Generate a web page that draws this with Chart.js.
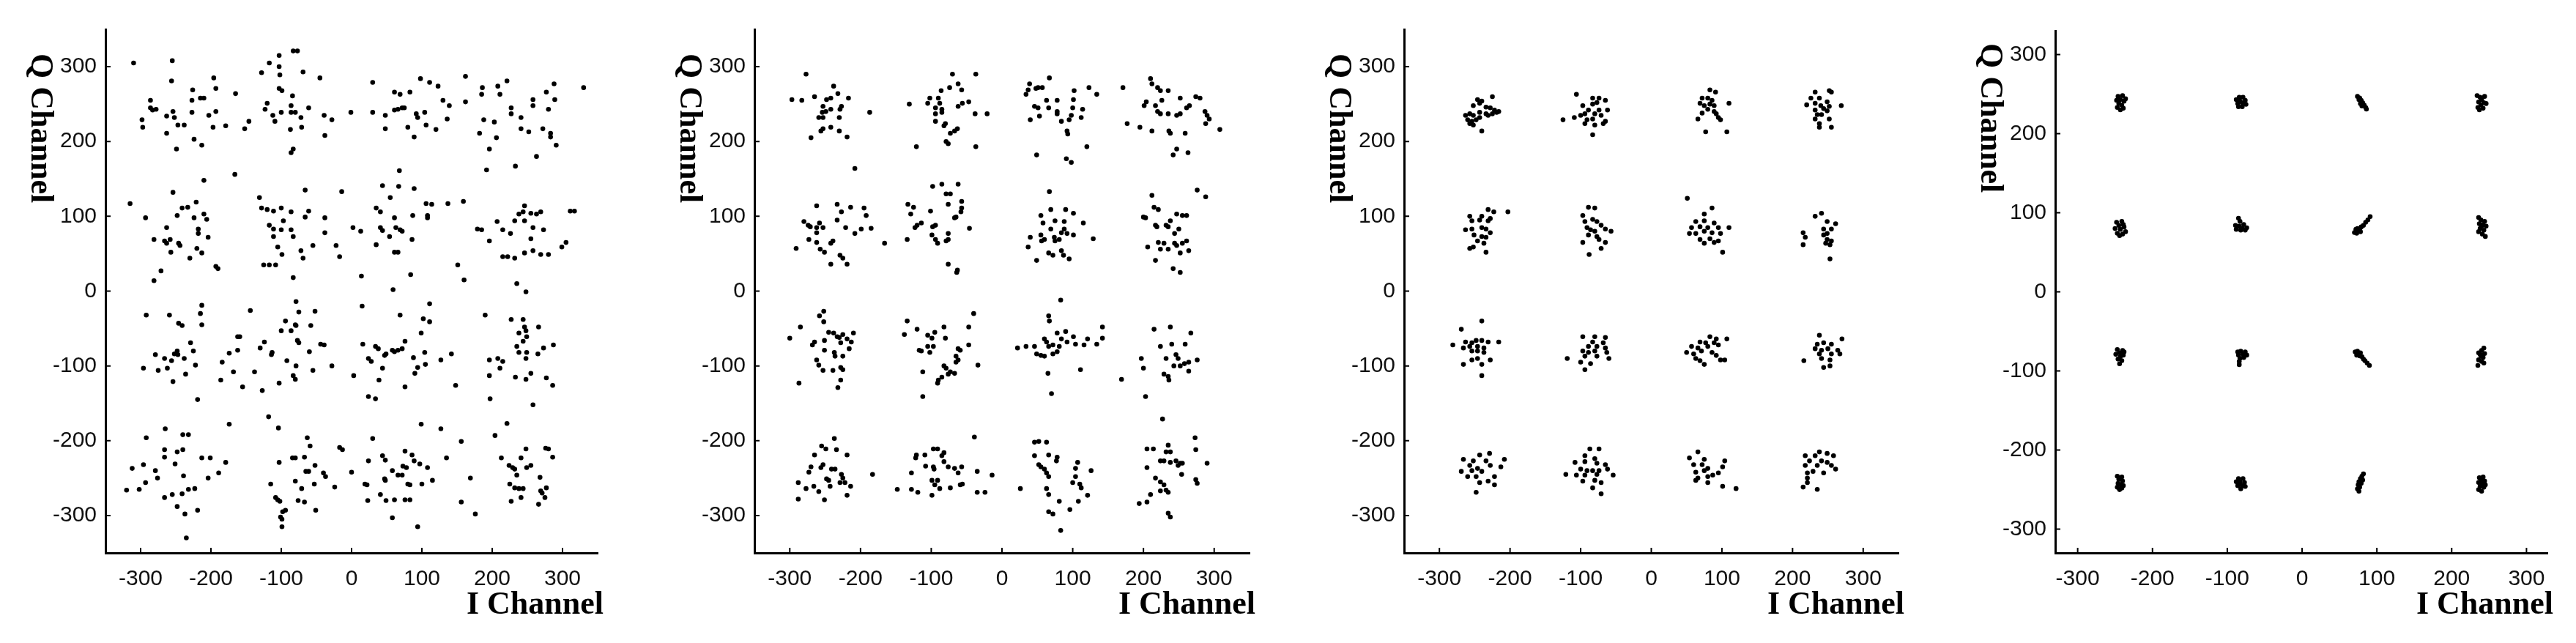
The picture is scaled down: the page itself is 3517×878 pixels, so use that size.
<!DOCTYPE html>
<html>
<head>
<meta charset="utf-8">
<script src="https://cdn.jsdelivr.net/npm/chart.js@4.4.1/dist/chart.umd.min.js"></script>
<style>
  html, body { margin: 0; padding: 0; background: #fff; }
  #wrap { position: relative; width: 3517px; height: 878px; overflow: hidden; }
  #wrap canvas { position: absolute; top: 0; }
</style>
</head>
<body>
<div id="wrap"></div>
<script>
// tick marks shared by every panel
const xTicks = [-300, -200, -100, 0, 100, 200, 300];
const yTicks = [-300, -200, -100, 0, 100, 200, 300];

// panel 1 - strongest noise, [I, Q]
const scatterA = [
  [-310,305],[-255,308],[-256,281],[-286,245],[-283,242],[-278,243],[-286,255],[-298,229],[-297,219],[-263,211],[-254,240],[-252,232],[-247,222],[-238,222],[-263,234],[-249,190],[-227,255],[-227,239],[-226,269],[-224,203],[-213,195],[-215,258],[-210,258],[-196,285],[-193,271],[-193,240],[-203,235],[-197,219],[-179,221],[-165,264],[-152,217],[-146,227],
  [-128,292],[-117,305],[-103,315],[-103,300],[-102,289],[-83,321],[-77,321],[-103,271],[-99,268],[-120,251],[-123,243],[-112,235],[-109,227],[-100,239],[-86,239],[-80,239],[-86,248],[-84,261],[-69,293],[-72,232],[-71,219],[-87,216],[-61,245],[-83,190],[-86,185],[-45,285],[-39,235],[-28,229],[-38,208],[-1,239],
  [30,279],[30,239],[48,235],[48,217],[61,266],[69,263],[61,242],[66,243],[72,245],[75,245],[80,219],[89,206],[83,266],[92,237],[94,232],[104,239],[98,284],[111,279],[123,274],[106,222],[120,216],[130,255],[139,248],[136,230],
  [162,287],[162,253],[186,272],[185,263],[182,211],[188,229],[196,190],[192,162],[203,226],[206,205],[208,274],[211,263],[221,281],[227,245],[227,237],[241,232],[233,167],[241,217],[252,213],[258,256],[258,248],[263,180],[272,217],[283,211],[283,206],[277,266],[280,243],[288,277],[289,256],[291,195],[330,272],
  [-315,117],[-293,98],[-281,69],[-263,85],[-266,67],[-263,64],[-258,69],[-257,52],[-246,64],[-244,61],[-254,132],[-248,101],[-241,111],[-233,112],[-221,119],[-224,98],[-218,83],[-218,77],[-210,103],[-206,96],[-220,57],[-213,51],[-230,44],[-204,72],[-210,148],[-193,33],[-190,30],[-271,27],[-281,14],[-166,156],
  [-131,125],[-128,111],[-120,109],[-111,107],[-100,111],[-86,106],[-97,94],[-117,88],[-111,83],[-100,82],[-111,73],[-86,82],[-83,73],[-105,59],[-99,49],[-72,54],[-69,44],[-125,35],[-117,35],[-108,35],[-83,18],[-66,135],[-61,107],[-66,99],[-55,61],[-38,98],[-38,78],[-22,61],[-17,46],[-14,133],
  [2,85],[13,80],[14,20],[35,111],[41,106],[55,125],[44,141],[68,161],[67,140],[89,137],[41,85],[44,81],[54,73],[61,98],[63,85],[69,82],[72,80],[35,62],[61,52],[66,52],[86,69],[87,101],[84,22],[59,2],[108,101],[108,98],[106,117],[114,116],[137,117],[159,120],[151,35],[160,15],
  [179,83],[185,82],[196,67],[207,93],[215,82],[226,77],[232,94],[238,103],[215,46],[222,46],[232,44],[235,10],[248,-1],[246,114],[244,106],[255,104],[263,103],[269,106],[246,94],[258,85],[273,82],[255,70],[246,51],[258,54],[269,49],[280,49],[299,59],[305,65],[311,107],[317,107],
  [-292,-32],[-259,-32],[-213,-19],[-215,-30],[-213,-45],[-246,-43],[-241,-46],[-144,-26],[-79,-14],[-75,-28],[-52,-27],[-94,-40],[-80,-45],[-58,-46],[15,-20],[69,-32],[111,-17],[102,-37],[111,-41],[190,-32],[227,-38],[244,-38],[246,-48],[266,-48],
  [-162,-61],[-159,-61],[-229,-69],[-279,-85],[-266,-90],[-252,-84],[-248,-80],[-247,-85],[-256,-93],[-238,-90],[-225,-80],[-222,-99],[-296,-103],[-275,-106],[-262,-103],[-236,-111],[-254,-121],[-219,-145],[-184,-95],[-174,-83],[-162,-79],[-168,-108],[-186,-119],[-155,-128],
  [-138,-108],[-130,-76],[-124,-68],[-114,-85],[-113,-82],[-127,-133],[-100,-53],[-86,-53],[-79,-46],[-92,-93],[-79,-100],[-83,-113],[-80,-118],[-103,-123],[-77,-66],[-75,-69],[-60,-81],[-55,-106],[-44,-71],[-39,-72],[-28,-100],
  [3,-113],[16,-71],[24,-90],[28,-94],[34,-74],[38,-77],[44,-103],[39,-119],[47,-86],[49,-84],[58,-79],[61,-81],[66,-79],[72,-77],[76,-67],[24,-141],[34,-144],[76,-128],[88,-89],[90,-110],[94,-102],[99,-56],[104,-82],[105,-98],[127,-92],[142,-84],[148,-126],
  [196,-92],[196,-113],[197,-144],[208,-90],[215,-94],[211,-103],[238,-56],[235,-74],[238,-82],[244,-67],[248,-53],[249,-61],[249,-82],[248,-90],[233,-115],[248,-118],[255,-110],[265,-84],[273,-76],[287,-72],[258,-152],[277,-116],[286,-126],
  [-174,-178],[-292,-196],[-265,-184],[-240,-192],[-232,-192],[-266,-212],[-266,-222],[-248,-215],[-240,-212],[-251,-231],[-296,-232],[-312,-237],[-279,-240],[-276,-250],[-293,-256],[-320,-266],[-302,-265],[-239,-247],[-266,-276],[-255,-272],[-241,-271],[-232,-265],[-223,-264],[-248,-288],[-237,-298],[-219,-293],[-235,-330],[-213,-223],[-201,-223],[-204,-250],[-189,-243],[-179,-229],
  [-118,-168],[-104,-183],[-103,-229],[-84,-223],[-80,-223],[-67,-222],[-63,-196],[-59,-207],[-115,-258],[-108,-276],[-105,-279],[-102,-281],[-98,-295],[-94,-293],[-101,-302],[-99,-305],[-99,-315],[-80,-254],[-71,-264],[-76,-280],[-67,-282],[-65,-241],[-61,-241],[-52,-233],[-53,-258],[-40,-243],[-37,-248],[-51,-293],[-24,-262],[-17,-209],[-13,-212],
  [0,-242],[19,-258],[22,-259],[23,-280],[24,-227],[30,-197],[44,-220],[48,-226],[47,-251],[48,-253],[41,-272],[49,-280],[58,-240],[61,-279],[66,-246],[72,-246],[76,-214],[73,-234],[78,-236],[80,-258],[83,-259],[76,-279],[83,-279],[58,-303],[86,-219],[89,-227],[97,-231],[108,-236],[99,-178],[100,-258],[115,-253],[94,-315],[127,-184],[135,-223],
  [156,-201],[169,-250],[156,-282],[176,-298],[204,-193],[221,-177],[213,-223],[224,-233],[229,-236],[232,-238],[235,-246],[225,-258],[227,-281],[241,-276],[232,-263],[238,-264],[244,-264],[241,-223],[248,-211],[249,-236],[255,-233],[268,-249],[269,-267],[271,-270],[266,-285],[275,-276],[277,-263],[276,-210],[280,-211],[286,-222]
];

// panel 2
const scatterB = [
  [-277,290],[-297,256],[-283,255],[-265,260],[-248,256],[-242,258],[-238,274],[-232,264],[-217,258],[-253,247],[-254,239],[-259,232],[-253,232],[-249,240],[-242,243],[-227,247],[-229,243],[-230,232],[-256,214],[-253,217],[-242,219],[-230,214],[-219,206],[-270,205],[-187,239],[-208,164],
  [-131,250],[-105,251],[-102,258],[-90,258],[-88,251],[-86,268],[-74,272],[-62,277],[-57,269],[-70,290],[-37,290],[-94,245],[-85,243],[-94,237],[-85,239],[-62,247],[-56,251],[-47,253],[-94,227],[-80,224],[-82,221],[-63,217],[-67,214],[-73,211],[-79,200],[-76,197],[-38,237],[-21,237],[-121,193],[-37,193],
  [67,285],[34,263],[37,269],[48,271],[51,272],[57,272],[39,277],[46,247],[51,245],[63,255],[78,255],[66,245],[78,240],[78,237],[40,229],[53,234],[84,227],[95,229],[98,235],[100,245],[101,256],[102,268],[123,272],[134,263],[114,243],[112,232],[92,214],[93,210],[120,193],[49,182],[91,177],[98,172],
  [171,272],[210,284],[212,277],[220,272],[235,268],[224,268],[204,253],[201,248],[217,248],[226,255],[252,258],[274,260],[280,258],[220,240],[224,237],[235,237],[252,237],[247,235],[261,245],[265,248],[177,224],[195,219],[212,214],[236,214],[238,211],[259,211],[287,240],[290,235],[293,230],[288,224],[308,216],[247,190],[242,182],[263,185],
  [-262,114],[-233,116],[-227,106],[-214,112],[-195,111],[-192,101],[-280,93],[-274,88],[-271,86],[-262,85],[-258,91],[-253,85],[-262,78],[-233,95],[-221,85],[-208,77],[-199,83],[-185,84],[-291,57],[-273,69],[-262,65],[-257,56],[-251,52],[-242,64],[-239,67],[-229,48],[-225,44],[-242,36],[-219,36],[-166,64],
  [-134,69],[-133,116],[-125,112],[-129,103],[-123,85],[-120,88],[-114,91],[-101,107],[-98,86],[-94,88],[-76,77],[-98,140],[-79,130],[-73,130],[-85,143],[-62,143],[-76,116],[-57,120],[-57,111],[-58,106],[-67,98],[-65,99],[-99,75],[-94,69],[-91,64],[-79,67],[-76,69],[-46,84],[-76,36],[-64,25],[-63,28],
  [37,59],[40,72],[49,41],[55,101],[58,91],[69,109],[90,109],[101,104],[75,94],[88,93],[69,83],[115,91],[55,75],[60,69],[56,67],[74,72],[75,67],[81,69],[84,78],[92,77],[101,75],[88,83],[67,133],[66,51],[72,48],[84,54],[87,48],[95,43],[129,70],
  [200,99],[203,98],[212,128],[215,112],[221,109],[217,88],[219,86],[235,86],[232,88],[238,94],[247,103],[255,101],[261,101],[250,83],[244,77],[221,65],[224,56],[206,59],[229,64],[235,56],[244,64],[247,61],[255,64],[261,67],[252,51],[264,54],[217,41],[242,30],[252,25],[276,135],[288,126],
  [83,-12],[-252,-27],[-258,-33],[-252,-41],[-40,-30],[-134,-40],[66,-33],[67,-40],[-285,-48],[142,-48],[-82,-48],[-47,-48],[238,-48],
  [-300,-63],[-268,-72],[-265,-68],[-251,-66],[-245,-55],[-238,-56],[-233,-61],[-230,-62],[-228,-69],[-225,-58],[-219,-64],[-213,-68],[-210,-56],[-251,-79],[-237,-82],[-236,-87],[-225,-87],[-216,-77],[-262,-92],[-259,-99],[-253,-106],[-239,-106],[-228,-102],[-225,-105],[-287,-123],[-228,-119],[-232,-129],
  [-138,-58],[-120,-51],[-105,-59],[-99,-63],[-95,-55],[-80,-63],[-117,-79],[-114,-80],[-105,-74],[-97,-74],[-102,-82],[-82,-100],[-79,-103],[-73,-108],[-76,-111],[-85,-115],[-90,-119],[-91,-123],[-67,-110],[-112,-108],[-112,-141],[-65,-87],[-62,-92],[-65,-95],[-62,-77],[-59,-79],[-47,-72],[-34,-99],
  [22,-76],[34,-74],[46,-74],[49,-84],[60,-64],[63,-68],[66,-74],[72,-72],[55,-86],[60,-87],[72,-84],[78,-81],[81,-74],[78,-56],[90,-54],[84,-64],[92,-68],[101,-61],[104,-71],[116,-72],[121,-64],[134,-71],[142,-63],[65,-110],[70,-137],[111,-105],
  [169,-118],[197,-90],[200,-103],[215,-51],[224,-74],[232,-90],[229,-111],[235,-114],[236,-119],[240,-71],[246,-85],[249,-90],[259,-71],[243,-100],[252,-100],[258,-97],[264,-95],[276,-92],[264,-107],[267,-56],[203,-141],[227,-171],
  [-237,-197],[-255,-207],[-249,-211],[-234,-212],[-219,-219],[-265,-219],[-253,-232],[-256,-236],[-270,-235],[-273,-242],[-241,-238],[-236,-238],[-248,-251],[-245,-253],[-227,-245],[-225,-250],[-229,-256],[-222,-256],[-214,-261],[-288,-256],[-277,-264],[-266,-261],[-259,-268],[-243,-261],[-288,-278],[-251,-279],[-219,-273],[-183,-245],
  [-121,-219],[-109,-219],[-122,-223],[-97,-211],[-91,-211],[-82,-216],[-85,-220],[-108,-234],[-97,-235],[-96,-238],[-82,-228],[-76,-235],[-67,-237],[-57,-235],[-62,-243],[-128,-243],[-99,-253],[-91,-253],[-148,-265],[-128,-265],[-119,-269],[-99,-273],[-95,-259],[-88,-264],[-73,-263],[-59,-259],[-56,-258],[-39,-195],[-35,-241],[-35,-269],[-24,-269],[-14,-246],
  [26,-264],[46,-202],[52,-201],[63,-202],[46,-220],[66,-219],[78,-222],[77,-227],[52,-232],[55,-235],[60,-238],[63,-243],[66,-248],[63,-264],[66,-272],[81,-281],[66,-295],[72,-298],[83,-320],[96,-292],[100,-256],[104,-248],[110,-258],[112,-263],[104,-237],[107,-229],[108,-281],[121,-273],[126,-240],
  [205,-211],[214,-211],[205,-236],[235,-206],[238,-215],[232,-215],[224,-227],[229,-227],[238,-229],[246,-227],[252,-230],[255,-230],[249,-233],[254,-245],[217,-250],[224,-255],[229,-259],[232,-266],[235,-269],[210,-272],[224,-267],[194,-284],[205,-282],[235,-297],[238,-302],[273,-196],[274,-212],[290,-230],[274,-252],[276,-257]
];

// panel 3
const scatterC = [
  [-246,256],[-240,254],[-243,251],[-225,260],[-252,248],[-234,246],[-228,245],[-222,242],[-219,239],[-263,235],[-257,237],[-252,235],[-243,239],[-234,237],[-231,235],[-225,237],[-260,229],[-254,227],[-248,229],[-243,232],[-257,224],[-252,222],[-240,214],[-216,240],
  [-106,263],[-83,258],[-74,258],[-65,255],[-97,248],[-83,250],[-77,252],[-89,242],[-74,242],[-62,242],[-94,237],[-100,235],[-80,237],[-71,235],[-109,232],[-91,229],[-83,230],[-125,229],[-94,224],[-80,222],[-65,227],[-68,224],[-83,209],
  [83,269],[91,266],[72,258],[80,258],[69,251],[75,248],[83,250],[89,248],[110,251],[80,243],[89,240],[72,238],[92,237],[66,230],[95,232],[98,229],[77,213],[107,213],[86,255],
  [232,266],[252,268],[255,266],[226,258],[238,258],[249,253],[220,249],[232,251],[240,248],[252,247],[269,248],[232,242],[244,244],[249,241],[235,236],[241,236],[232,230],[252,230],[238,224],[255,219],[238,219],
  [-231,109],[-223,106],[-203,106],[-257,100],[-240,100],[-254,94],[-243,95],[-231,94],[-228,97],[-263,82],[-254,83],[-240,85],[-234,83],[-228,78],[-251,75],[-240,73],[-234,72],[-246,67],[-257,57],[-252,59],[-237,64],[-234,52],
  [-89,112],[-80,111],[-97,101],[-83,96],[-94,93],[-77,93],[-71,88],[-91,85],[-86,82],[-80,80],[-65,83],[-57,80],[-89,75],[-77,73],[-74,69],[-65,65],[-97,65],[-71,57],[-88,49],
  [51,124],[86,111],[75,103],[63,93],[75,94],[89,91],[57,85],[69,86],[80,85],[95,85],[110,85],[54,77],[63,77],[75,80],[86,78],[98,77],[69,69],[83,70],[89,65],[95,67],[75,64],[101,52],
  [241,104],[232,100],[249,93],[261,90],[244,83],[255,83],[215,78],[249,77],[244,75],[218,72],[249,69],[255,67],[215,62],[247,64],[253,62],[253,43],
  [-240,-40],[-269,-51],[-281,-72],[-263,-68],[-254,-69],[-248,-66],[-240,-66],[-266,-76],[-257,-74],[-246,-74],[-237,-76],[-231,-68],[-216,-68],[-254,-80],[-246,-80],[-237,-82],[-246,-90],[-254,-92],[-228,-92],[-266,-98],[-240,-98],[-240,-113],
  [-97,-61],[-80,-61],[-65,-62],[-83,-68],[-68,-69],[-89,-74],[-77,-74],[-65,-76],[-97,-80],[-89,-82],[-80,-80],[-63,-82],[-94,-87],[-77,-87],[-119,-90],[-60,-90],[-100,-95],[-86,-97],[-94,-105],
  [83,-61],[92,-64],[107,-64],[69,-68],[77,-69],[89,-69],[57,-74],[66,-76],[80,-74],[95,-72],[50,-82],[60,-84],[71,-80],[86,-82],[63,-90],[69,-93],[75,-98],[98,-92],[104,-92],[92,-86],
  [238,-59],[235,-71],[244,-69],[255,-71],[270,-64],[232,-77],[241,-79],[250,-77],[264,-79],[238,-84],[255,-84],[267,-84],[241,-90],[253,-92],[216,-93],[244,-102],[253,-100],
  [-243,-219],[-229,-217],[-266,-225],[-252,-227],[-234,-227],[-208,-225],[-257,-233],[-246,-237],[-228,-233],[-213,-235],[-269,-241],[-254,-240],[-240,-241],[-260,-248],[-248,-248],[-222,-248],[-243,-256],[-231,-254],[-222,-259],[-248,-269],
  [-87,-211],[-74,-211],[-94,-220],[-80,-224],[-108,-229],[-94,-228],[-77,-230],[-65,-232],[-100,-238],[-91,-240],[-83,-240],[-74,-240],[-62,-238],[-121,-245],[-106,-246],[-94,-246],[-77,-245],[-54,-246],[-97,-254],[-80,-253],[-71,-256],[-83,-263],[-71,-271],
  [66,-215],[54,-223],[75,-225],[104,-227],[60,-232],[72,-232],[80,-237],[101,-235],[63,-242],[75,-240],[95,-243],[66,-250],[80,-248],[87,-246],[63,-253],[80,-256],[101,-261],[120,-264],
  [238,-215],[249,-217],[218,-220],[232,-220],[258,-220],[224,-227],[241,-227],[249,-229],[218,-233],[235,-233],[255,-233],[261,-238],[221,-243],[229,-241],[244,-243],[221,-250],[221,-256],[215,-262],[235,-265]
];

// panel 4 - lowest noise, tight clusters
const scatterD = [
  [-246,247],[-240,248],[-243,243],[-238,241],[-245,238],[-241,236],[-247,233],[-239,232],[-243,230],[-236,244],[-248,242],
  [-88,243],[-84,246],[-79,246],[-76,242],[-86,238],[-80,239],[-75,237],[-85,234],[-80,234],[-83,241],
  [74,247],[77,245],[79,242],[81,239],[78,238],[83,236],[85,233],[86,231],[80,235],[76,243],
  [234,248],[238,246],[244,247],[240,243],[236,240],[243,239],[239,236],[235,233],[242,232],[246,238],[237,230],
  [-248,88],[-241,89],[-245,84],[-238,82],[-250,80],[-243,79],[-236,76],[-247,74],[-240,73],[-244,71],[-239,85],
  [-85,93],[-83,89],[-89,84],[-84,83],[-78,85],[-74,81],[-88,79],[-82,78],[-76,78],[-80,80],
  [70,75],[73,74],[75,77],[72,79],[77,79],[79,82],[82,84],[85,88],[88,91],[91,95],[78,76],[74,80],
  [236,94],[239,91],[244,89],[237,86],[242,85],[246,83],[238,80],[243,78],[236,76],[241,73],[245,70],[240,83],
  [-247,-73],[-240,-74],[-244,-77],[-249,-79],[-239,-80],[-243,-82],[-246,-85],[-241,-87],[-244,-91],[-238,-76],
  [-86,-76],[-82,-75],[-76,-76],[-85,-80],[-79,-79],[-74,-80],[-83,-84],[-78,-83],[-84,-88],[-84,-92],
  [71,-76],[74,-75],[78,-77],[73,-80],[77,-81],[80,-82],[82,-85],[84,-87],[87,-90],[90,-93],[76,-79],
  [243,-71],[240,-74],[236,-77],[244,-78],[239,-81],[242,-83],[236,-86],[240,-88],[243,-90],[235,-93],[238,-79],
  [-247,-233],[-241,-234],[-245,-237],[-240,-239],[-246,-242],[-242,-244],[-247,-247],[-241,-248],[-244,-250],[-239,-245],
  [-85,-236],[-79,-236],[-88,-240],[-83,-240],[-77,-241],[-86,-245],[-80,-245],[-82,-249],[-76,-246],[-84,-243],
  [82,-230],[80,-233],[78,-236],[81,-238],[76,-240],[79,-242],[75,-244],[77,-247],[74,-249],[76,-252],
  [237,-235],[242,-234],[239,-238],[244,-239],[236,-241],[241,-243],[238,-246],[243,-247],[236,-250],[240,-252],[245,-244]
];

// layout of the four panels (page pixels)
const Y_AXIS_W = 150;
const RIGHT_PAD = 24;
const PAGE_H = 878;
const panels = [
  { pts: scatterA, axisX: 144,  axisEnd: 816,  top: 40, bottom: 755, xr: [-350, 350], yr: [-350, 350], qTop: 73 },
  { pts: scatterB, axisX: 1030, axisEnd: 1706, top: 40, bottom: 755, xr: [-350, 350], yr: [-350, 350], qTop: 73 },
  { pts: scatterC, axisX: 1917, axisEnd: 2592, top: 40, bottom: 755, xr: [-350, 350], yr: [-350, 350], qTop: 73 },
  { pts: scatterD, axisX: 2806, axisEnd: 3478, top: 42, bottom: 755, xr: [-330, 328], yr: [-330, 330], qTop: 59 }
];

const tickFont = { family: "'Liberation Sans', Arial, sans-serif", size: 30 };
const labelFont = "bold 44px 'Liberation Serif', 'Times New Roman', serif";

// inward tick marks and the two channel labels
const axisDecor = {
  id: 'axisDecor',
  afterDraw(chart, args, opts) {
    const { ctx, chartArea: a, scales: { x, y } } = chart;
    ctx.save();
    ctx.strokeStyle = '#000';
    ctx.lineWidth = 2;
    ctx.beginPath();
    xTicks.forEach(v => {
      const px = x.getPixelForValue(v);
      ctx.moveTo(px, a.bottom);
      ctx.lineTo(px, a.bottom - 7);
    });
    yTicks.forEach(v => {
      const py = y.getPixelForValue(v);
      ctx.moveTo(a.left, py);
      ctx.lineTo(a.left + 7, py);
    });
    ctx.stroke();

    ctx.fillStyle = '#000';
    ctx.font = labelFont;
    ctx.textAlign = 'right';
    ctx.textBaseline = 'alphabetic';
    ctx.fillText('I Channel', a.right + 8, 838);

    ctx.translate(a.left - 90, opts.qTop);
    ctx.rotate(Math.PI / 2);
    ctx.textAlign = 'left';
    ctx.textBaseline = 'middle';
    ctx.fillText('Q Channel', 0, 0);
    ctx.restore();
  }
};

const wrap = document.getElementById('wrap');

panels.forEach(p => {
  const canvas = document.createElement('canvas');
  const w = Y_AXIS_W + (p.axisEnd - p.axisX) + RIGHT_PAD;
  canvas.width = w;
  canvas.height = PAGE_H;
  canvas.style.left = (p.axisX - Y_AXIS_W) + 'px';
  canvas.style.width = w + 'px';
  canvas.style.height = PAGE_H + 'px';
  wrap.appendChild(canvas);

  new Chart(canvas, {
    type: 'scatter',
    data: {
      datasets: [{
        data: p.pts.map(([i, q]) => ({ x: i, y: q })),
        pointRadius: 3.3,
        pointHoverRadius: 3.3,
        pointBackgroundColor: '#000',
        pointBorderWidth: 0
      }]
    },
    options: {
      responsive: false,
      animation: false,
      events: [],
      layout: { padding: { top: p.top, right: RIGHT_PAD, left: 0, bottom: 0 } },
      plugins: {
        legend: { display: false },
        tooltip: { enabled: false },
        axisDecor: { qTop: p.qTop }
      },
      scales: {
        x: {
          type: 'linear',
          min: p.xr[0],
          max: p.xr[1],
          afterBuildTicks: s => { s.ticks = xTicks.map(v => ({ value: v })); },
          afterFit: s => { s.height = PAGE_H - p.bottom; },
          grid: { display: false, drawTicks: false },
          border: { display: true, color: '#000', width: 3 },
          ticks: { font: tickFont, color: '#111', padding: 18, maxRotation: 0, autoSkip: false }
        },
        y: {
          type: 'linear',
          min: p.yr[0],
          max: p.yr[1],
          afterBuildTicks: s => { s.ticks = yTicks.map(v => ({ value: v })); },
          afterFit: s => { s.width = Y_AXIS_W; },
          grid: { display: false, drawTicks: false },
          border: { display: true, color: '#000', width: 3 },
          ticks: { font: tickFont, color: '#111', padding: 12, autoSkip: false }
        }
      }
    },
    plugins: [axisDecor]
  });
});
</script>
</body>
</html>
